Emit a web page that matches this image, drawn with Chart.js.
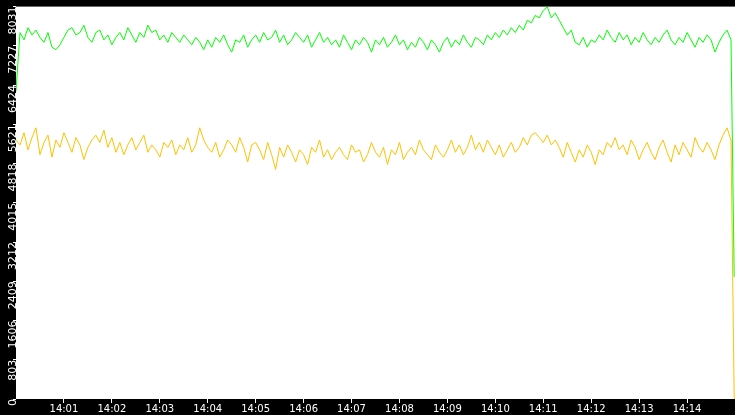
<!DOCTYPE html>
<html>
<head>
<meta charset="utf-8">
<script src="https://cdn.jsdelivr.net/npm/chart.js@4/dist/chart.umd.min.js"></script>
<style>
  html, body { margin: 0; padding: 0; background: #000; }
  #wrap { width: 735px; height: 415px; }
</style>
</head>
<body>
<div id="wrap"><canvas id="c" width="735" height="415"></canvas></div>
<script>
// sample spacing in seconds from 14:00:00
const stepSec = 5;

const greenValues = [
  6300,7500,7350,7600,7450,7550,7400,7300,7500,7200,7150,7250,7400,7550,7600,7450,7500,7650,7400,7300,
  7500,7550,7350,7450,7250,7400,7500,7350,7600,7450,7300,7500,7400,7650,7500,7550,7350,7450,7300,7500,
  7400,7300,7450,7350,7250,7400,7300,7150,7350,7200,7400,7300,7450,7250,7100,7350,7300,7450,7200,7350,
  7450,7300,7500,7350,7400,7550,7300,7450,7250,7350,7500,7400,7300,7450,7200,7350,7500,7300,7400,7250,
  7350,7200,7450,7300,7150,7350,7250,7400,7300,7100,7350,7250,7400,7200,7300,7450,7250,7350,7150,7300,
  7200,7400,7300,7150,7350,7250,7100,7300,7400,7200,7350,7250,7450,7300,7200,7400,7350,7250,7450,7350,
  7500,7400,7550,7450,7600,7500,7650,7550,7750,7700,7850,7800,7950,8030,7800,7900,7750,7600,7450,7550,
  7300,7250,7400,7200,7350,7300,7450,7350,7550,7400,7300,7500,7350,7450,7250,7400,7300,7500,7350,7250,
  7400,7300,7450,7550,7350,7250,7400,7300,7500,7350,7200,7400,7300,7450,7350,7100,7300,7450,7550,7350,
  2500
];

const yellowValues = [
  5300,5200,5450,5100,5350,5550,5000,5250,5400,4950,5300,5150,5450,5250,5050,5350,5200,4900,5150,5300,
  5400,5250,5500,5150,5350,5050,5250,5000,5200,5350,5100,5250,5400,5050,5200,5100,4950,5250,5150,5300,
  5000,5200,5100,5350,5050,5200,5550,5300,5150,5050,5250,4950,5100,5300,5200,5050,5350,5150,4850,5200,
  5250,5100,4900,5250,5000,4700,5150,4950,5200,5050,4850,5100,5000,4800,5150,5050,5300,4950,5100,4900,
  5050,5150,5000,4900,5200,5050,5100,4850,5000,5250,5050,4950,5150,4800,5100,5000,5250,4900,5050,5150,
  5000,5300,5100,5000,4900,5200,5050,4950,5100,5300,5050,5200,5000,5150,5400,5100,5250,5050,5300,5150,
  5000,5200,4950,5100,5250,5050,5150,5350,5200,5400,5450,5350,5250,5400,5200,5300,5150,4950,5250,5050,
  4850,5100,4950,5200,5050,4800,5100,5000,5250,5150,5350,5100,5200,5000,5300,5150,4900,5100,5250,5050,
  4900,5150,5300,5050,4850,5200,5000,5250,5100,4950,5350,5150,5050,5250,5100,4900,5200,5400,5550,5300,
  0
];

const yTickValues = [0, 803.1, 1606.2, 2409.3, 3212.4, 4015.5, 4818.6, 5621.7, 6424.8, 7227.9, 8031];
const yTickLabels = ['0','803','1606','2409','3212','4015','4818','5621','6424','7227','8031'];
const xTickValues = [60,120,180,240,300,360,420,480,540,600,660,720,780,840];
const xTickLabels = ['14:01','14:02','14:03','14:04','14:05','14:06','14:07','14:08','14:09','14:10','14:11','14:12','14:13','14:14'];

function toPoints(arr) {
  return arr.map((v, i) => ({ x: Math.min(i * stepSec, 899), y: v }));
}

// black frame, white plot area
const bgPlugin = {
  id: 'bg',
  beforeDraw(chart) {
    const ctx = chart.ctx, a = chart.chartArea;
    ctx.save();
    ctx.fillStyle = '#000';
    ctx.fillRect(0, 0, chart.width, chart.height);
    ctx.fillStyle = '#fff';
    ctx.fillRect(a.left, a.top, a.right - a.left, a.bottom - a.top);
    ctx.restore();
  }
};

new Chart(document.getElementById('c').getContext('2d'), {
  type: 'line',
  data: {
    datasets: [
      { data: toPoints(greenValues), borderColor: '#00ff00', borderWidth: 1, pointRadius: 0, tension: 0 },
      { data: toPoints(yellowValues), borderColor: '#ffc000', borderWidth: 1, pointRadius: 0, tension: 0 }
    ]
  },
  plugins: [bgPlugin],
  options: {
    responsive: false,
    devicePixelRatio: 1,
    animation: false,
    layout: { padding: 0 },
    plugins: { legend: { display: false }, tooltip: { enabled: false } },
    scales: {
      x: {
        type: 'linear', min: 0, max: 900,
        afterBuildTicks(ax) { ax.ticks = xTickValues.map(v => ({ value: v })); },
        afterFit(ax) { ax.height = 16; },
        ticks: {
          color: '#fff', padding: 0, maxRotation: 0, autoSkip: false,
          font: { family: 'DejaVu Sans', size: 10 },
          callback: (v) => xTickLabels[xTickValues.indexOf(v)]
        },
        grid: { drawOnChartArea: false, color: '#fff', tickLength: 4 },
        border: { display: false }
      },
      y: {
        min: 0, max: 8031,
        afterBuildTicks(ax) { ax.ticks = yTickValues.map(v => ({ value: v })); },
        afterFit(ax) { ax.width = 16; },
        ticks: {
          color: '#fff', padding: 0, minRotation: 90, maxRotation: 90, autoSkip: false,
          font: { family: 'DejaVu Sans', size: 11 },
          callback: (v) => yTickLabels[yTickValues.indexOf(v)]
        },
        grid: { drawOnChartArea: false, color: '#fff', tickLength: 3 },
        border: { display: false }
      }
    }
  }
});
</script>
</body>
</html>
